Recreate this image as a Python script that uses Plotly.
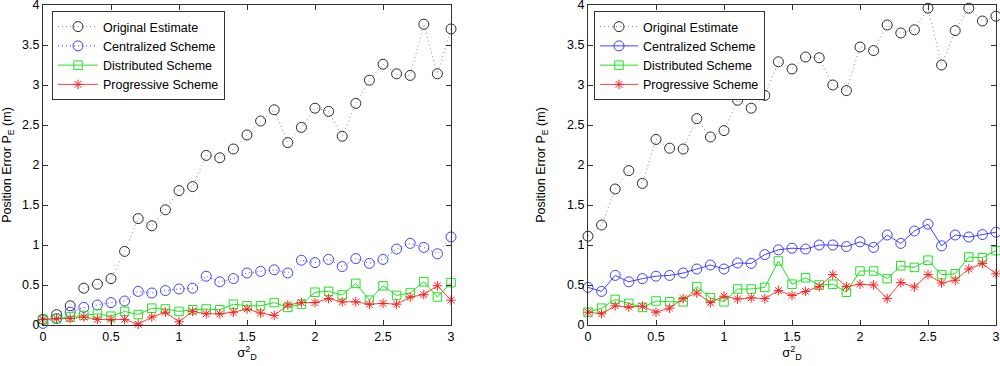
import plotly.graph_objects as go

x_vals = [round(i * 0.1, 1) for i in range(31)]

# Left panel
left_original = [0.07, 0.13, 0.24, 0.46, 0.51, 0.58, 0.92, 1.33, 1.24, 1.44, 1.68, 1.73, 2.12, 2.09, 2.20,
                 2.375, 2.55, 2.69, 2.28, 2.47, 2.71, 2.67, 2.36, 2.77, 3.06, 3.26, 3.14, 3.12, 3.76, 3.14, 3.70]
left_central = [0.02, 0.08, 0.16, 0.22, 0.25, 0.28, 0.30, 0.42, 0.40, 0.43, 0.45, 0.46, 0.61, 0.54, 0.58,
                0.65, 0.67, 0.69, 0.65, 0.81, 0.78, 0.82, 0.73, 0.83, 0.77, 0.82, 0.95, 1.02, 0.97, 0.89, 1.10]
left_distrib = [0.07, 0.08, 0.10, 0.12, 0.14, 0.11, 0.17, 0.13, 0.21, 0.20, 0.17, 0.19, 0.20, 0.19, 0.26,
                0.24, 0.24, 0.28, 0.22, 0.26, 0.41, 0.42, 0.375, 0.52, 0.31, 0.49, 0.37, 0.40, 0.54, 0.35, 0.53]
left_progress = [0.07, 0.08, 0.08, 0.10, 0.07, 0.07, 0.07, 0.01, 0.10, 0.16, 0.04, 0.17, 0.14, 0.14, 0.16,
                 0.20, 0.15, 0.12, 0.25, 0.28, 0.28, 0.33, 0.29, 0.29, 0.26, 0.27, 0.26, 0.35, 0.38, 0.49, 0.31]

# Right panel
right_original = [1.11, 1.25, 1.70, 1.93, 1.77, 2.32, 2.21, 2.20, 2.58, 2.35, 2.43, 2.81, 2.71, 2.87, 3.29,
                  3.20, 3.35, 3.34, 3.00, 2.93, 3.475, 3.43, 3.75, 3.65, 3.69, 3.96, 3.25, 3.68, 3.96, 3.80, 3.86]
right_central = [0.47, 0.42, 0.62, 0.54, 0.58, 0.61, 0.62, 0.65, 0.70, 0.75, 0.70, 0.775, 0.77, 0.88, 0.94,
                 0.96, 0.95, 1.00, 1.00, 0.98, 1.04, 0.97, 1.125, 1.02, 1.175, 1.26, 0.99, 1.125, 1.10, 1.13, 1.16]
right_distrib = [0.16, 0.21, 0.32, 0.27, 0.22, 0.30, 0.29, 0.29, 0.48, 0.34, 0.29, 0.45, 0.45, 0.47, 0.80,
                 0.51, 0.59, 0.50, 0.51, 0.41, 0.675, 0.675, 0.58, 0.74, 0.72, 0.81, 0.63, 0.64, 0.85, 0.84, 0.93]
right_progress = [0.16, 0.14, 0.24, 0.225, 0.235, 0.16, 0.21, 0.33, 0.40, 0.28, 0.36, 0.325, 0.34, 0.33, 0.43,
                  0.37, 0.42, 0.48, 0.63, 0.48, 0.51, 0.50, 0.33, 0.53, 0.475, 0.63, 0.525, 0.56, 0.70, 0.77, 0.64]

series_names = ["Original Estimate", "Centralized Scheme", "Distributed Scheme", "Progressive Scheme"]
x_ticks = [0, 0.5, 1, 1.5, 2, 2.5, 3]
y_ticks = [0, 0.5, 1, 1.5, 2, 2.5, 3, 3.5, 4]

FONT = "Liberation Sans, Arial, sans-serif"
DOT = "1px,3px"
fig = go.Figure()


def add_panel(xa, ya, legend, data, central_dash):
    styles = [
        dict(line=dict(color="#8a8a8a", width=1, dash=DOT),
             marker=dict(symbol="circle-open", size=10, color="#2a2a2a", line=dict(width=1, color="#2a2a2a"))),
        dict(line=dict(color="#4040ff", width=1, dash=central_dash),
             marker=dict(symbol="circle-open", size=10, color="#4040ff", line=dict(width=1, color="#4040ff"))),
        dict(line=dict(color="#22e022", width=1),
             marker=dict(symbol="square-open", size=8.5, color="#22e022", line=dict(width=1, color="#22e022"))),
        dict(line=dict(color="#ff4040", width=1),
             marker=dict(symbol="asterisk-open", size=8, color="#ff2020", line=dict(width=1, color="#ff2020"))),
    ]
    for i, (name, ys, st) in enumerate(zip(series_names, data, styles)):
        fig.add_trace(go.Scatter(x=x_vals, y=ys, name=name, mode="lines+markers",
                                 xaxis=xa, yaxis=ya, legend=legend, cliponaxis=False,
                                 legendgroup=legend + str(i), **st))


add_panel("x", "y", "legend", [left_original, left_central, left_distrib, left_progress], DOT)
add_panel("x2", "y2", "legend2", [right_original, right_central, right_distrib, right_progress], "solid")

axis_common = dict(showline=True, linecolor="#333333", linewidth=1, mirror="ticks",
                   ticks="inside", ticklen=5, tickcolor="#333333", showgrid=False, zeroline=False,
                   automargin=False, ticklabeloverflow="allow",
                   tickfont=dict(family=FONT, size=12.5, color="#000000"))

top = 1 - 5 / 366
bottom = 1 - 325 / 366
xt = dict(text="σ<sup>2</sup><sub>D</sub>", standoff=4, font=dict(size=13))
yt = dict(text="Position Error P<sub>E</sub> (m)", standoff=18, font=dict(size=12.5))

fig.update_layout(
    width=1000, height=366,
    margin=dict(l=0, r=0, t=0, b=0),
    paper_bgcolor="white", plot_bgcolor="white",
    font=dict(family=FONT, size=12.5, color="#000000"),
    xaxis=dict(domain=[43 / 1000, 451 / 1000], range=[0, 3], tickvals=x_ticks, anchor="y",
               title=xt, **axis_common),
    yaxis=dict(domain=[bottom, top], range=[0, 4], tickvals=y_ticks, anchor="x",
               title=yt, **axis_common),
    xaxis2=dict(domain=[588 / 1000, 996 / 1000], range=[0, 3], tickvals=x_ticks, anchor="y2",
                title=xt, **axis_common),
    yaxis2=dict(domain=[bottom, top], range=[0, 4], tickvals=y_ticks, anchor="x2",
                title=yt, **axis_common),
    legend=dict(x=52 / 1000, y=1 - 11 / 366, xanchor="left", yanchor="top",
                bgcolor="white", bordercolor="#333333", borderwidth=1, itemwidth=40,
                font=dict(family=FONT, size=12.5), traceorder="grouped", tracegroupgap=0),
    legend2=dict(x=594 / 1000, y=1 - 11 / 366, xanchor="left", yanchor="top",
                 bgcolor="white", bordercolor="#333333", borderwidth=1, itemwidth=38,
                 font=dict(family=FONT, size=12.5), traceorder="grouped", tracegroupgap=0),
)

fig.write_html("out.html", config={"displayModeBar": False},
               post_script="document.body.style.margin='0';document.body.style.padding='0';")
